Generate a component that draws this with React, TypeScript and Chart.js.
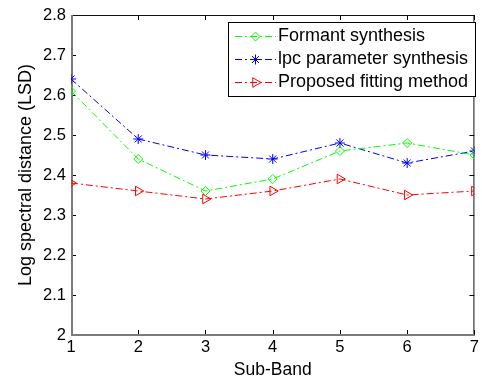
import React, { useEffect, useRef } from 'react';
import { Chart, registerables } from 'chart.js';
import { drawPoint } from 'chart.js/helpers';

Chart.register(...registerables);

const subBands = [1, 2, 3, 4, 5, 6, 7];
const formantSynthesis = [2.61, 2.44, 2.36, 2.39, 2.46, 2.48, 2.45];
const lpcSynthesis = [2.64, 2.49, 2.45, 2.44, 2.48, 2.43, 2.46];
const proposedFitting = [2.38, 2.36, 2.34, 2.36, 2.39, 2.35, 2.36];
const seriesLabels = ['Formant synthesis', 'lpc parameter synthesis', 'Proposed fitting method'];
const xTitle = 'Sub-Band';
const yTitle = 'Log spectral distance (LSD)';

const FONT = '"Liberation Sans", Arial, sans-serif';

const framePlugin = {
  id: 'matlabFrame',
  beforeDatasetsDraw(chart: any) {
    const { ctx, chartArea: a, scales } = chart;
    const x = scales.x;
    const y = scales.y;
    ctx.save();
    ctx.strokeStyle = '#000';
    ctx.lineWidth = 1;
    const tl = 5;
    ctx.beginPath();
    x.ticks.forEach((t: any) => {
      const px = Math.round(x.getPixelForValue(t.value)) + 0.5;
      ctx.moveTo(px, a.bottom);
      ctx.lineTo(px, a.bottom - tl);
      ctx.moveTo(px, a.top);
      ctx.lineTo(px, a.top + tl);
    });
    y.ticks.forEach((t: any) => {
      const py = Math.round(y.getPixelForValue(t.value)) + 0.5;
      ctx.moveTo(a.left, py);
      ctx.lineTo(a.left + tl, py);
      ctx.moveTo(a.right, py);
      ctx.lineTo(a.right - tl, py);
    });
    ctx.stroke();
    ctx.strokeStyle = '#111';
    ctx.lineWidth = 1;
    ctx.beginPath();
    ctx.moveTo(a.left, a.top + 0.5);
    ctx.lineTo(a.right, a.top + 0.5);
    ctx.moveTo(a.right - 0.5, a.top);
    ctx.lineTo(a.right - 0.5, a.bottom);
    ctx.stroke();
    ctx.strokeStyle = '#7a7a7a';
    ctx.lineWidth = 2;
    ctx.beginPath();
    ctx.moveTo(a.left + 1, a.top);
    ctx.lineTo(a.left + 1, a.bottom);
    ctx.moveTo(a.left, a.bottom);
    ctx.lineTo(a.right, a.bottom);
    ctx.stroke();
    ctx.restore();
  },
};

const legendPlugin = {
  id: 'matlabLegend',
  afterDatasetsDraw(chart: any) {
    const { ctx } = chart;
    const bx = 228.5, by = 22.5, bw = 247, bh = 74;
    ctx.save();
    ctx.fillStyle = '#fff';
    ctx.fillRect(bx, by, bw, bh);
    ctx.strokeStyle = '#000';
    ctx.lineWidth = 1;
    ctx.strokeRect(bx, by, bw, bh);
    const rows = [36, 59, 82];
    chart.data.datasets.forEach((ds: any, i: number) => {
      const ry = rows[i] + 0.5;
      ctx.save();
      ctx.strokeStyle = ds.borderColor;
      ctx.lineWidth = 1;
      ctx.setLineDash(ds.borderDash || []);
      ctx.beginPath();
      ctx.moveTo(235, ry);
      ctx.lineTo(276, ry);
      ctx.stroke();
      ctx.setLineDash([]);
      ctx.strokeStyle = ds.pointBorderColor;
      ctx.fillStyle = 'rgba(0,0,0,0)';
      ctx.lineWidth = 1;
      drawPoint(ctx, {
        pointStyle: ds.pointStyle,
        radius: ds.pointRadius,
        rotation: ds.pointRotation || 0,
        borderWidth: 1,
      } as any, 255.5, ry);
      ctx.restore();
      ctx.fillStyle = '#000';
      ctx.font = `18px ${FONT}`;
      ctx.textBaseline = 'middle';
      ctx.textAlign = 'left';
      ctx.fillText(ds.label, 278, rows[i] + 0.5);
    });
    ctx.restore();
  },
};

const toPoints = (vals: number[]) => subBands.map((x, i) => ({ x, y: vals[i] }));

export default function App() {
  const ref = useRef<HTMLCanvasElement | null>(null);
  useEffect(() => {
    if (!ref.current) return;
    const chart = new Chart(ref.current, {
      type: 'line',
      data: {
        datasets: [
          {
            label: seriesLabels[0],
            data: toPoints(formantSynthesis),
            borderColor: '#00ff00',
            pointBorderColor: '#00ff00',
            pointBackgroundColor: 'rgba(0,0,0,0)',
            pointStyle: 'rectRot',
            pointRadius: 4.5,
            borderWidth: 1,
            borderDash: [7, 3, 2, 3],
            tension: 0,
            fill: false,
          },
          {
            label: seriesLabels[1],
            data: toPoints(lpcSynthesis),
            borderColor: '#0000ff',
            pointBorderColor: '#0000ff',
            pointBackgroundColor: 'rgba(0,0,0,0)',
            pointStyle: 'star',
            pointRadius: 5,
            borderWidth: 1,
            borderDash: [7, 3, 2, 3],
            tension: 0,
            fill: false,
          },
          {
            label: seriesLabels[2],
            data: toPoints(proposedFitting),
            borderColor: '#ff0000',
            pointBorderColor: '#ff0000',
            pointBackgroundColor: 'rgba(0,0,0,0)',
            pointStyle: 'triangle',
            pointRotation: 90,
            pointRadius: 5.5,
            borderWidth: 1,
            borderDash: [7, 3, 2, 3],
            tension: 0,
            fill: false,
          },
        ],
      } as any,
      options: {
        animation: false,
        responsive: false,
        layout: { padding: { top: 15, right: 3, left: 0, bottom: 0 } },
        plugins: { legend: { display: false }, tooltip: { enabled: false } },
        scales: {
          x: {
            type: 'linear',
            min: 1,
            max: 7,
            grid: { display: false, drawTicks: false },
            border: { display: false },
            ticks: {
              stepSize: 1,
              padding: 3,
              color: '#000',
              font: { family: FONT, size: 16.5 },
              maxRotation: 0,
            },
            title: {
              display: true,
              text: xTitle,
              color: '#000',
              font: { family: FONT, size: 17.5 },
              padding: { top: 0, bottom: 0 },
            },
            afterFit: (s: any) => {
              s.height = 46;
            },
          },
          y: {
            type: 'linear',
            min: 2,
            max: 2.8,
            grid: { display: false, drawTicks: false },
            border: { display: false },
            ticks: {
              stepSize: 0.1,
              padding: 5,
              color: '#000',
              font: { family: FONT, size: 16.5 },
              callback: (v: any) => String(Math.round(Number(v) * 10) / 10),
            },
            title: {
              display: true,
              text: yTitle,
              color: '#000',
              font: { family: FONT, size: 18 },
              padding: { top: 15, bottom: 0 },
            },
            afterFit: (s: any) => {
              s.width = 71;
            },
          },
        },
      } as any,
      plugins: [framePlugin, legendPlugin],
    });
    return () => chart.destroy();
  }, []);
  return (
    <div style={{ position: 'absolute', left: 0, top: 0, width: 482, height: 381, background: '#fff' }}>
      <canvas ref={ref} width={482} height={381} style={{ display: 'block' }} />
    </div>
  );
}
